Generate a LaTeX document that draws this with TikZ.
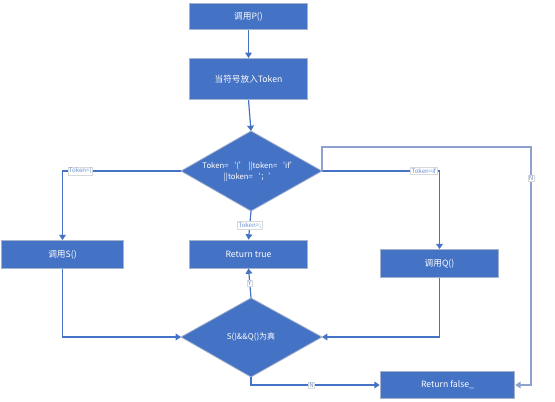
\documentclass[tikz,border=0pt]{standalone}
\usepackage{fontspec}
\setmainfont{Noto Sans CJK SC}
\usetikzlibrary{shapes.geometric,arrows.meta}
\definecolor{fblue}{HTML}{4472C4}
\definecolor{fedge}{HTML}{A6B3CC}
\definecolor{nline}{HTML}{8FA2CF}
\begin{document}
\begin{tikzpicture}[x=0.75pt,y=-0.75pt,
  box/.style={draw=fedge,line width=0.6pt,fill=fblue,text=white,font=\fontsize{6.5}{8}\selectfont,inner sep=0pt},
  conn/.style={draw=fblue,line width=0.9pt,-{Triangle[length=4pt,width=5pt]}},
  lab/.style={fill=white,draw=black!15,line width=0.3pt,text=fblue!80,font=\fontsize{4.6}{5.5}\selectfont,inner sep=0.7pt}]
\useasboundingbox (0,0) rectangle (555,401);
\node[box,minimum width=88pt,minimum height=20pt] (p) at (248.5,16.5) {调用P()};
\node[box,minimum width=88pt,minimum height=31pt] (t) at (248.5,79) {当符号放入Token};
\node[box,minimum width=88pt,minimum height=21pt] (rt) at (248.5,254) {Return true};
\node[box,minimum width=91pt,minimum height=21pt] (s) at (62.5,254.5) {调用S()};
\node[box,minimum width=89pt,minimum height=21pt] (q) at (439.5,263.5) {调用Q()};
\node[box,minimum width=101pt,minimum height=20pt] (rf) at (447.5,385) {Return false\_};
% diamonds drawn as paths
\coordinate (d1l) at (181,171);
\coordinate (d1r) at (322,171);
\coordinate (d1t) at (251,131);
\coordinate (d1b) at (251,211);
\draw[draw=fedge,line width=0.6pt,fill=fblue] (d1l) -- (d1t) -- (d1r) -- (d1b) -- cycle;
\node[text=white,font=\fontsize{5.8}{8.5}\selectfont,align=center,inner sep=0pt] (d1txt) at (250,172) {Token=‘(’ ||token=‘if’\\||token=‘；’};
\coordinate (d2l) at (181,337);
\coordinate (d2r) at (322,337);
\coordinate (d2t) at (251,298);
\coordinate (d2b) at (251,377);
\draw[draw=fedge,line width=0.6pt,fill=fblue] (d2l) -- (d2t) -- (d2r) -- (d2b) -- cycle;
\node[text=white,font=\fontsize{6}{8}\selectfont,inner sep=0pt] (d2txt) at (251,337) {S()\&\&Q()为真};
% connectors
\draw[conn] (p) -- (t);
\draw[conn] (t.south) -- (d1t);
\draw[conn] (d1b) -- (rt.north) node[lab,pos=0.5] (l3) {Token=;};
\draw[conn] (d1l) -| (s.north) node[lab,pos=0.425] (l1) {Token=(};
\draw[conn] (d1r) -| (q.north) node[lab,pos=0.433] (l2) {Token=if};
\coordinate (c1) at (322,147);
\coordinate (c2) at (531,147);
\coordinate (c3) at (531,385);
\draw[draw=nline,line width=0.9pt,-{Triangle[length=4pt,width=5pt]}] (d1r) -- (c1) -- (c2) -- (c3) -- (rf.east) ;
\node[lab] (l4) at (531,178) {N};
\draw[conn] (s.south) |- (d2l);
\draw[conn] (q.south) |- (d2r);
\draw[conn] (d2t) -- (rt.south) node[lab,pos=0.5] (l5) {Y};
\draw[conn] (d2b) |- (rf.west) node[lab,pos=0.735] (l6) {N};
\end{tikzpicture}
\end{document}
